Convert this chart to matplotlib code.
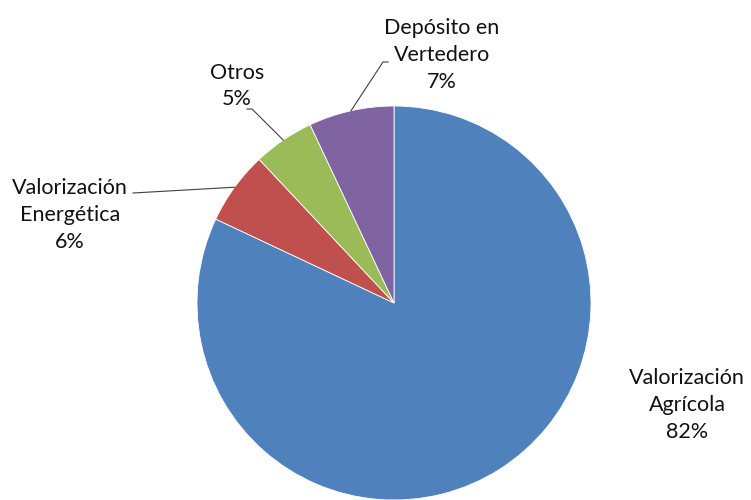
import numpy as np
import matplotlib.pyplot as plt

# residuos / destino final (porcentajes)
labels = ['Valorización\nAgrícola', 'Valorización\nEnergética', 'Otros', 'Depósito en\nVertedero']
values = [82, 6, 5, 7]
colors = ['#4F81BD', '#C0504D', '#9BBB59', '#8064A2']

plt.rcParams['font.family'] = ['Lato', 'DejaVu Sans']

W, H = 751, 500
fig = plt.figure(figsize=(W / 100, H / 100), dpi=100)
ax = fig.add_axes([0, 0, 1, 1])

cx, cy, r = 394, H - 303, 197
wedges, _ = ax.pie(values, colors=colors, startangle=90, counterclock=False,
                   center=(cx, cy), radius=r, frame=True,
                   wedgeprops=dict(edgecolor='white', linewidth=0.6))
ax.set_xlim(0, W)
ax.set_ylim(0, H)
ax.set_aspect('equal')
ax.axis('off')

# label text positions (px from top-left) and leader line elbows
text_pos = [(687, 405), (70, 215), (237, 86), (442, 55)]
elbows = [None, (133, 193), (252, 109), (383, 62)]
line_start = [None, None, (247, 109), (388, 62)]

for w, lab, v, tp, el, ls in zip(wedges, labels, values, text_pos, elbows, line_start):
    ax.text(tp[0], H - tp[1], f'{lab}\n{v}%', ha='center', va='center',
            fontsize=15.5, color='#111111', linespacing=1.42)
    if el is None:
        continue
    ang = np.deg2rad((w.theta1 + w.theta2) / 2)
    ex, ey = cx + r * np.cos(ang), cy + r * np.sin(ang)
    xs = [el[0], ex]
    ys = [H - el[1], ey]
    if ls is not None:
        xs = [ls[0]] + xs
        ys = [H - ls[1]] + ys
    ax.plot(xs, ys, color='#404040', linewidth=0.8)

fig.savefig('out.png', dpi=100, facecolor='white')
